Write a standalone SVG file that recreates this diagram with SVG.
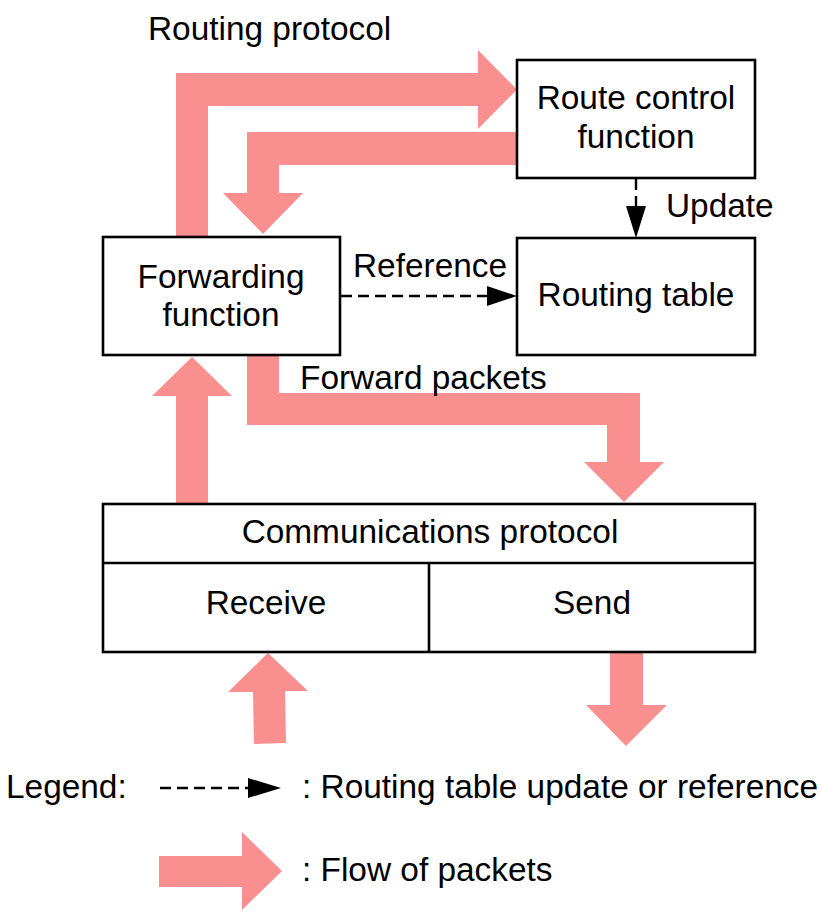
<svg xmlns="http://www.w3.org/2000/svg" width="822" height="916" viewBox="0 0 822 916">
<style>
.box{fill:#fff;stroke:#000;stroke-width:2.6}
.flow{fill:#f98f8f;stroke:none}
.dash{stroke:#000;stroke-width:2.4;stroke-dasharray:11 6;fill:none}
.head{fill:#000}
text{font-family:"Liberation Sans",Arial,sans-serif;font-size:33.4px;fill:#000}
.c{text-anchor:middle}
</style>
<rect width="822" height="916" fill="#fff"/>
<g id="connectors">
<polygon class="flow" points="176,237 176,73 478,73 478,50 517,89.5 478,129 478,106 208,106 208,237"/>
<polygon class="flow" points="517,132 517,165 279,165 279,193 303,193 263,234 223,193 247,193 247,132"/>
<polygon class="flow" points="176,503 176,396 152,396 192,357 232,396 208,396 208,503"/>
<polygon class="flow" points="247,355 279,355 279,393 640,393 640,462 664,462 624,502 584,462 607,462 607,425 247,425"/>
<polygon class="flow" points="254,744 286,743 285,691 308,691 268,653 228,692 253,692"/>
<polygon class="flow" points="610,652 643,652 643,705 667,705 626,746 586,705 610,705"/>
<line class="dash" x1="636" y1="179" x2="636" y2="207"/>
<polygon class="head" points="626,206 646,206 636,238"/>
<line class="dash" x1="341" y1="296" x2="488" y2="296"/>
<polygon class="head" points="487,286 517,296 487,306"/>
<text x="148" y="40">Routing protocol</text>
<text x="666" y="217">Update</text>
<text x="353" y="277">Reference</text>
<text x="300" y="389">Forward packets</text>
</g>
<g id="route-control">
<rect class="box" x="517" y="60" width="238" height="118"/>
<text class="c" x="636" y="109">Route control</text>
<text class="c" x="636" y="148">function</text>
</g>
<g id="routing-table">
<rect class="box" x="517" y="238" width="238" height="117"/>
<text class="c" x="636" y="306">Routing table</text>
</g>
<g id="forwarding">
<rect class="box" x="103" y="237" width="237" height="118"/>
<text class="c" x="221" y="288">Forwarding</text>
<text class="c" x="221" y="326">function</text>
</g>
<g id="communications">
<rect class="box" x="103" y="504" width="652" height="148"/>
<line x1="103" y1="563" x2="755" y2="563" stroke="#000" stroke-width="2.6"/>
<line x1="429" y1="563" x2="429" y2="652" stroke="#000" stroke-width="2.6"/>
<text class="c" x="430" y="543">Communications protocol</text>
<text class="c" x="266" y="614">Receive</text>
<text class="c" x="592" y="614">Send</text>
</g>
<g id="legend">
<text x="6" y="798">Legend:</text>
<line class="dash" x1="160" y1="788" x2="249" y2="788" stroke-dasharray="12 6"/>
<polygon class="head" points="248,778 281,788 248,798"/>
<text x="302" y="798">: Routing table update or reference</text>
<polygon class="flow" points="159,856 242,856 242,832 282,871 242,910 242,887 159,887"/>
<text x="302" y="881">: Flow of packets</text>
</g>
</svg>
